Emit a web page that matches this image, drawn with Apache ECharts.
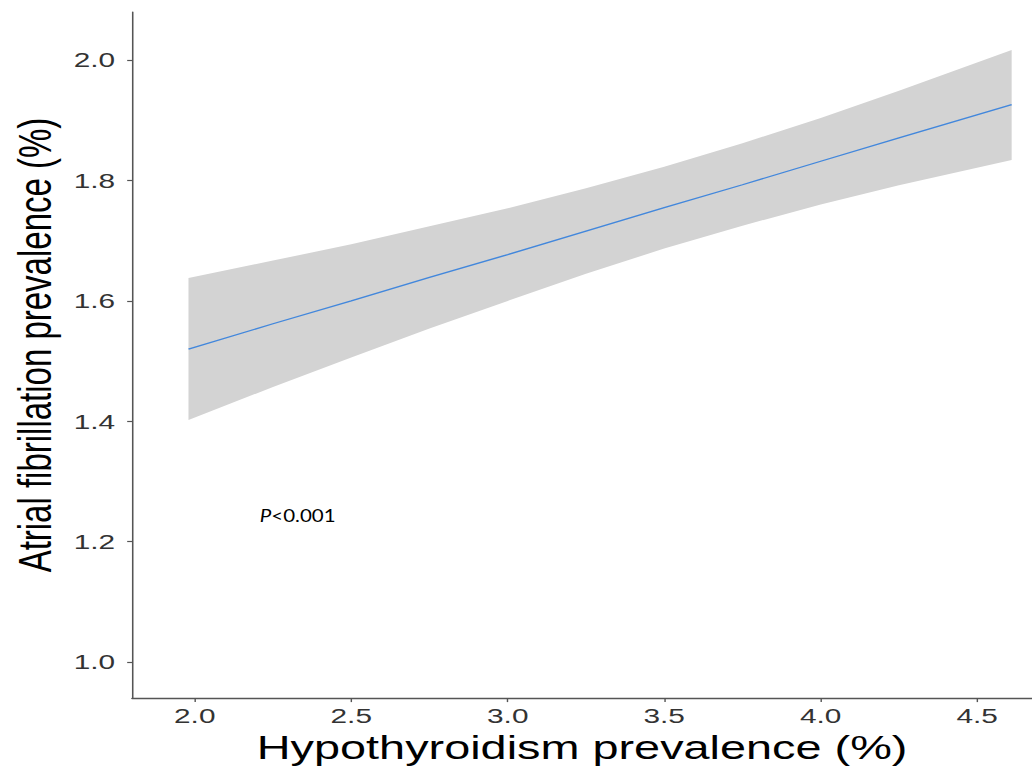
<!DOCTYPE html>
<html><head><meta charset="utf-8">
<script src="https://cdn.jsdelivr.net/npm/echarts@6/dist/echarts.min.js"></script>
<style>
html,body{margin:0;padding:0;background:#fff;overflow:hidden;width:1032px;height:769px}
#wrap{width:1032px;height:769px;overflow:hidden;position:relative}
#chart{position:absolute;left:0;top:0;width:727px;height:769px;transform:scaleX(1.41953);transform-origin:0 0}
</style></head><body><div id="wrap"><div id="chart"></div></div>
<script>
const xValues     = [1.98, 2.25, 2.50, 2.75, 3.00, 3.25, 3.50, 3.75, 4.00, 4.25, 4.61];
const fitValues   = [1.520, 1.562, 1.600, 1.639, 1.677, 1.716, 1.755, 1.793, 1.832, 1.871, 1.926];
const lowerValues = [1.402, 1.457, 1.506, 1.554, 1.600, 1.645, 1.687, 1.725, 1.760, 1.792, 1.834];
const upperValues = [1.638, 1.667, 1.694, 1.724, 1.754, 1.787, 1.823, 1.862, 1.904, 1.949, 2.017];
const xTicks = [2.0, 2.5, 3.0, 3.5, 4.0, 4.5];
const yTicks = [1.0, 1.2, 1.4, 1.6, 1.8, 2.0];
const xTitle = 'Hypothyroidism prevalence (%)';
const yTitle = 'Atrial fibrillation prevalence (%)';
const pLabelItalic = 'P';
const pLabelRest = '<0.001';

const chart = echarts.init(document.getElementById('chart'), null, {renderer: 'svg'});
const axisColor = '#555555';
const FONT = '"Liberation Sans", Arial, sans-serif';
const PFONT = 'Lato, "Open Sans", sans-serif';

chart.setOption({
  animation: false,
  backgroundColor: '#ffffff',
  grid: {left: 82.4, right: 0, top: 12, bottom: 67, containLabel: false},
  xAxis: {
    type: 'value', min: 1.8, max: 4.675,
    axisLine: {show: true, onZero: false, lineStyle: {color: axisColor, width: 1.4}},
    axisTick: {show: true, length: 4, customValues: xTicks, lineStyle: {color: axisColor, width: 1}},
    axisLabel: {customValues: xTicks, formatter: v => Number(v).toFixed(1), color: '#333', fontSize: 21, fontFamily: FONT, margin: 7},
    splitLine: {show: false},
    name: xTitle, nameLocation: 'middle', nameGap: 26,
    nameTextStyle: {fontSize: 33, color: '#000', fontFamily: FONT}
  },
  yAxis: {
    type: 'value', min: 0.94, max: 2.08,
    axisLine: {show: true, onZero: false, lineStyle: {color: axisColor, width: 1.1}},
    axisTick: {show: true, length: 3.5, customValues: yTicks, lineStyle: {color: axisColor, width: 1.2}},
    axisLabel: {customValues: yTicks, formatter: v => Number(v).toFixed(1), color: '#333', fontSize: 21, fontFamily: FONT, margin: 12},
    splitLine: {show: false},
    name: yTitle, nameLocation: 'middle', nameGap: 45,
    nameTextStyle: {fontSize: 33, color: '#000', fontFamily: FONT, padding: [0, 0, 0, 20]}
  },
  graphic: [{
    type: 'text', left: 183, top: 507, scaleX: 0.85,
    style: {
      rich: {
        i: {fontStyle: 'italic', fontSize: 17, fontFamily: PFONT, fill: '#000'},
        n: {fontSize: 17, fontFamily: PFONT, fill: '#000'}
      },
      text: '{i|' + pLabelItalic + '}{n|' + pLabelRest + '}'
    }
  }],
  series: [
    {
      type: 'custom',
      data: xValues.map((x, i) => [x, lowerValues[i], upperValues[i]]),
      encode: {x: 0, y: [1, 2]},
      silent: true, z: 1,
      renderItem: function (params, api) {
        if (params.dataIndex !== 0) return null;
        const pts = [];
        for (let i = 0; i < xValues.length; i++) pts.push(api.coord([xValues[i], upperValues[i]]));
        for (let i = xValues.length - 1; i >= 0; i--) pts.push(api.coord([xValues[i], lowerValues[i]]));
        return {type: 'polygon', shape: {points: pts}, style: {fill: '#d3d3d3'}};
      }
    },
    {
      type: 'line', z: 3,
      data: xValues.map((x, i) => [x, fitValues[i]]),
      showSymbol: false, symbol: 'none',
      lineStyle: {color: '#4287dc', width: 1.3}
    }
  ]
});
</script></body></html>
